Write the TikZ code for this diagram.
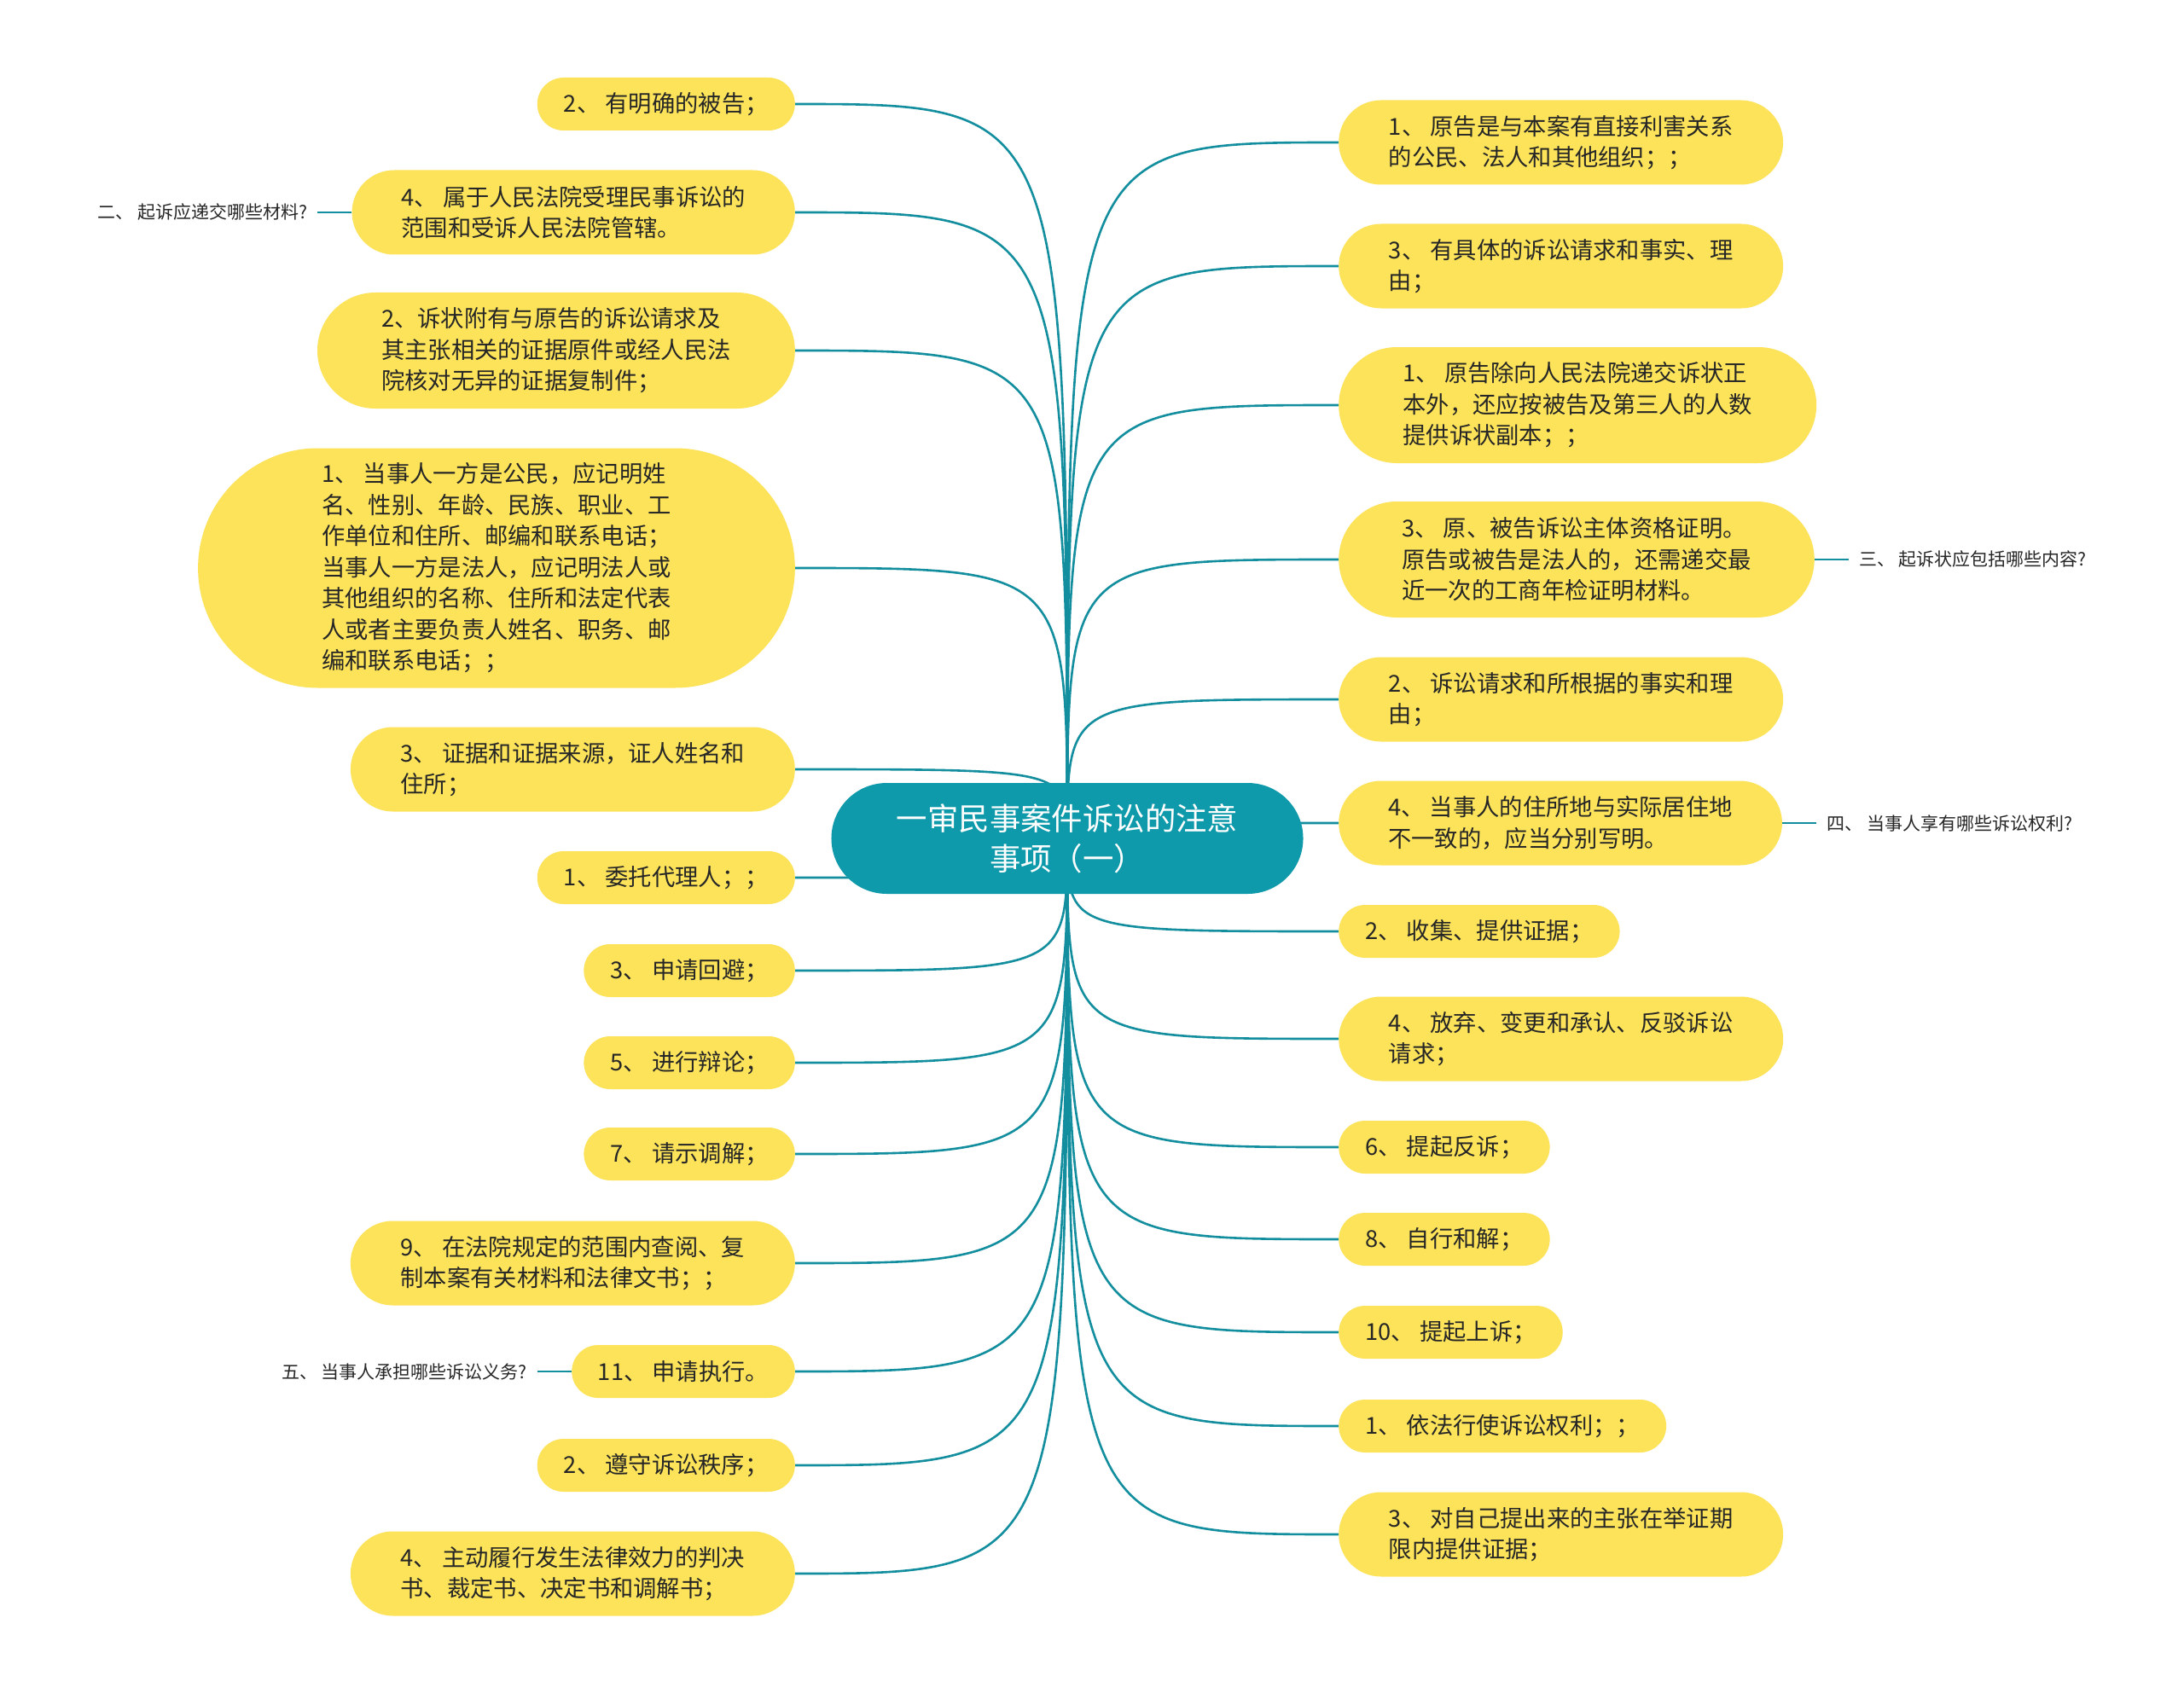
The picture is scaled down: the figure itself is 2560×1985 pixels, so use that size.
\documentclass[tikz,border=0pt]{standalone}
\usepackage{fontspec}
\newfontfamily\cjk{Noto Sans CJK SC}
\usetikzlibrary{shapes.misc, positioning, backgrounds}

\definecolor{hubteal}{HTML}{0E9AAA}
\definecolor{leafyellow}{HTML}{FCE35A}
\definecolor{linkteal}{HTML}{138E9E}

\tikzset{
  hubbox/.style={rounded rectangle, fill=hubteal, text=white, font=\cjk\fontsize{36.4}{47}\selectfont,
    align=center, minimum height=130, inner xsep=62, inner ysep=0},
  leaf/.style={rounded rectangle, fill=leafyellow, text=black!85, font=\cjk\fontsize{27.3}{36.5}\selectfont,
    align=left, inner xsep=28, inner ysep=0, minimum height=62},
  rows2/.style={minimum height=99, inner xsep=47},
  rows3/.style={minimum height=136, inner xsep=53},
  rows7/.style={minimum height=281, inner xsep=72},
  note/.style={font=\cjk\fontsize{21}{26}\selectfont, text=black!85, inner xsep=12, inner ysep=0},
  link/.style={draw=linkteal, line width=2.6},
}

\begin{document}
\begin{tikzpicture}[x=1pt,y=-1pt]
\useasboundingbox (0,0) rectangle (2560,1985);

\node[hubbox] (hub) at (1251,983) {一审民事案件诉讼的注意\\事项（一）};

% left side
\node[leaf, anchor=east] (l1) at (932,122) {2、 有明确的被告；};
\node[leaf, rows2, anchor=east] (l2) at (932,249) {4、 属于人民法院受理民事诉讼的\\范围和受诉人民法院管辖。};
\node[leaf, rows3, anchor=east] (l3) at (932,411) {2、诉状附有与原告的诉讼请求及\\其主张相关的证据原件或经人民法\\院核对无异的证据复制件；};
\node[leaf, rows7, anchor=east] (l4) at (932,666) {1、 当事人一方是公民，应记明姓\\名、性别、年龄、民族、职业、工\\作单位和住所、邮编和联系电话；\\当事人一方是法人，应记明法人或\\其他组织的名称、住所和法定代表\\人或者主要负责人姓名、职务、邮\\编和联系电话；；};
\node[leaf, rows2, anchor=east] (l5) at (932,902) {3、 证据和证据来源，证人姓名和\\住所；};
\node[leaf, anchor=east] (l6) at (932,1029) {1、 委托代理人；；};
\node[leaf, anchor=east] (l7) at (932,1138) {3、 申请回避；};
\node[leaf, anchor=east] (l8) at (932,1246) {5、 进行辩论；};
\node[leaf, anchor=east] (l9) at (932,1353) {7、 请示调解；};
\node[leaf, rows2, anchor=east] (l10) at (932,1481) {9、 在法院规定的范围内查阅、复\\制本案有关材料和法律文书；；};
\node[leaf, anchor=east] (l11) at (932,1608) {11、 申请执行。};
\node[leaf, anchor=east] (l12) at (932,1718) {2、 遵守诉讼秩序；};
\node[leaf, rows2, anchor=east] (l13) at (932,1845) {4、 主动履行发生法律效力的判决\\书、裁定书、决定书和调解书；};

% right side
\node[leaf, rows2, anchor=west] (r1) at (1569,167) {1、 原告是与本案有直接利害关系\\的公民、法人和其他组织；；};
\node[leaf, rows2, anchor=west] (r2) at (1569,312) {3、 有具体的诉讼请求和事实、理\\由；};
\node[leaf, rows3, anchor=west] (r3) at (1569,475) {1、 原告除向人民法院递交诉状正\\本外，还应按被告及第三人的人数\\提供诉状副本；；};
\node[leaf, rows3, anchor=west] (r4) at (1569,656) {3、 原、被告诉讼主体资格证明。\\原告或被告是法人的，还需递交最\\近一次的工商年检证明材料。};
\node[leaf, rows2, anchor=west] (r5) at (1569,820) {2、 诉讼请求和所根据的事实和理\\由；};
\node[leaf, rows2, anchor=west] (r6) at (1569,965) {4、 当事人的住所地与实际居住地\\不一致的，应当分别写明。};
\node[leaf, anchor=west] (r7) at (1569,1092) {2、 收集、提供证据；};
\node[leaf, rows2, anchor=west] (r8) at (1569,1218) {4、 放弃、变更和承认、反驳诉讼\\请求；};
\node[leaf, anchor=west] (r9) at (1569,1345) {6、 提起反诉；};
\node[leaf, anchor=west] (r10) at (1569,1453) {8、 自行和解；};
\node[leaf, anchor=west] (r11) at (1569,1562) {10、 提起上诉；};
\node[leaf, anchor=west] (r12) at (1569,1672) {1、 依法行使诉讼权利；；};
\node[leaf, rows2, anchor=west] (r13) at (1569,1799) {3、 对自己提出来的主张在举证期\\限内提供证据；};

% questions
\node[note, left=40pt of l2] (q2) {二、 起诉应递交哪些材料?};
\node[note, right=40pt of r4] (q3) {三、 起诉状应包括哪些内容?};
\node[note, right=40pt of r6] (q4) {四、 当事人享有哪些诉讼权利?};
\node[note, left=40pt of l11] (q5) {五、 当事人承担哪些诉讼义务?};

\begin{scope}[on background layer]
\fill[white] (0,0) rectangle (2560,1985);
\foreach \n in {l1,l2,l3,l4,l5,l6,l7,l8,l9,l10,l11,l12,l13}
  \draw[link] (hub.center) .. controls (hub.center |- \n.east) .. (\n.east);
\foreach \n in {r1,r2,r3,r4,r5,r6,r7,r8,r9,r10,r11,r12,r13}
  \draw[link] (hub.center) .. controls (hub.center |- \n.west) .. (\n.west);
\draw[link] (l2.west) -- (q2.east);
\draw[link] (r4.east) -- (q3.west);
\draw[link] (r6.east) -- (q4.west);
\draw[link] (l11.west) -- (q5.east);
\end{scope}
\end{tikzpicture}
\end{document}
